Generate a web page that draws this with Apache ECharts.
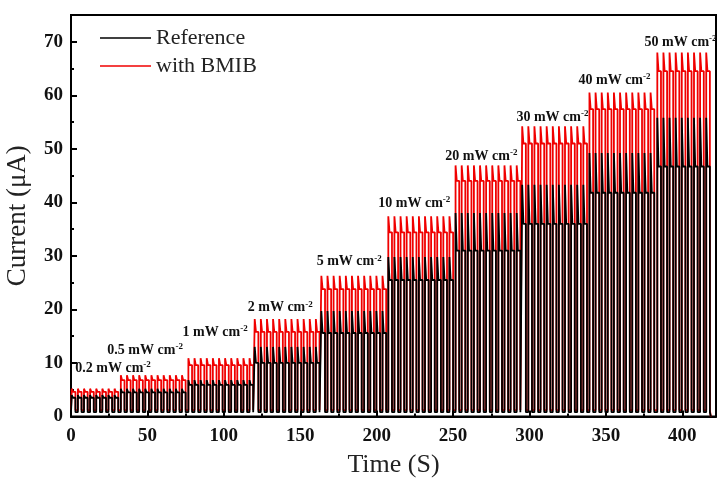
<!DOCTYPE html>
<html>
<head>
<meta charset="utf-8">
<script src="https://cdn.jsdelivr.net/npm/echarts@6/dist/echarts.min.js"></script>
<style>
  html, body { margin: 0; padding: 0; background: #fff; }
  #chart { width: 718px; height: 480px; }
</style>
</head>
<body>
<div id="chart"></div>
<script>
// light intensity steps (mW cm-2) and the pulse train
const intensities = ['0.2', '0.5', '1', '2', '5', '10', '20', '30', '40', '50']
const segStart = [0.5, 32.6, 76.8, 120.2, 163.8, 207.6, 251.6, 295.2, 339.2, 383.6]
const pulseCount = [8, 11, 11, 11, 11, 11, 11, 11, 11, 9]
const redPeak = [5.2, 7.7, 10.9, 18.2, 26.3, 37.4, 46.9, 54.2, 60.5, 68.0]
const redPlateau = [4.6, 6.8, 9.6, 15.8, 23.8, 34.4, 44.0, 51.0, 57.4, 64.5]
const blackPeak = [4.0, 5.2, 6.8, 13.0, 19.7, 29.8, 38.0, 43.3, 49.2, 55.8]
const blackPlateau = [3.5, 4.5, 5.9, 10.0, 15.6, 25.5, 31.0, 36.0, 41.8, 46.7]
const labelPos = [[27.5, 9.0], [48.5, 12.4], [94.3, 15.8], [136.9, 20.3], [182, 28.9],
  [224.6, 39.8], [268.5, 48.6], [315, 55.9], [355.6, 62.8], [398.8, 69.9]]
const redBase = 1.2
const blackBase = 0.8
const period = 4
const onTime = 2.4
const decay = 0.8
const endTime = 418.6

function wave(peak, plateau, base) {
  const pts = [[0, base]]
  segStart.forEach((s, i) => {
    for (let k = 0; k < pulseCount[i]; k++) {
      const t0 = s + k * period
      pts.push([t0, base], [t0, peak[i]], [t0 + decay, plateau[i]],
        [t0 + onTime, plateau[i]], [t0 + onTime, base])
    }
  })
  pts.push([endTime, base], [endTime, 0])
  return pts
}

const serif = '"Liberation Serif", "Times New Roman", serif'

const chart = echarts.init(document.getElementById('chart'), null, { renderer: 'canvas' })

chart.setOption({
  animation: false,
  grid: {
    left: 71, right: 2, top: 15, bottom: 63.5,
    outerBoundsMode: 'none',
    show: true, borderColor: '#000', borderWidth: 2,
  },
  legend: {
    data: ['Reference', 'with BMIB'],
    orient: 'vertical',
    left: 95,
    top: 22,
    icon: 'rect',
    itemWidth: 51,
    itemHeight: 1.5,
    itemGap: 6,
    textStyle: { fontFamily: serif, fontSize: 22, color: '#222' },
  },
  xAxis: {
    type: 'value',
    min: 0,
    max: 422,
    interval: 50,
    name: 'Time (S)',
    nameLocation: 'middle',
    nameGap: 36,
    nameTextStyle: { fontFamily: serif, fontSize: 26, color: '#222' },
    axisLine: { lineStyle: { color: '#000', width: 2 } },
    axisTick: { inside: true, length: 6, lineStyle: { color: '#000', width: 2 } },
    minorTick: { show: true, splitNumber: 2, length: 3, lineStyle: { color: '#000', width: 2 } },
    axisLabel: { fontFamily: serif, fontWeight: 'bold', fontSize: 19, color: '#111', margin: 10, showMaxLabel: false },
    splitLine: { show: false },
  },
  yAxis: {
    type: 'value',
    min: 0,
    max: 75,
    interval: 10,
    name: 'Current (\u03bcA)',
    nameLocation: 'middle',
    nameGap: 40,
    nameTextStyle: { fontFamily: serif, fontSize: 27, color: '#222' },
    axisLine: { lineStyle: { color: '#000', width: 2 } },
    axisTick: { inside: true, length: 6, lineStyle: { color: '#000', width: 2 } },
    minorTick: { show: true, splitNumber: 2, length: 3, lineStyle: { color: '#000', width: 2 } },
    axisLabel: { fontFamily: serif, fontWeight: 'bold', fontSize: 19, color: '#111', margin: 8, showMaxLabel: false },
    splitLine: { show: false },
  },
  series: [
    {
      name: 'with BMIB',
      type: 'line',
      data: wave(redPeak, redPlateau, redBase),
      symbol: 'none',
      color: '#f00000',
      lineStyle: { width: 1.8, color: '#f00000' },
      markPoint: {
        symbol: 'circle',
        symbolSize: 1,
        itemStyle: { color: 'rgba(0,0,0,0)' },
        label: {
          show: true,
          position: 'inside',
          formatter: p => `{a|${p.name} mW cm}{s|-2}`,
          rich: {
            a: { fontFamily: serif, fontWeight: 'bold', fontSize: 14, color: '#111' },
            s: { fontFamily: serif, fontWeight: 'bold', fontSize: 9, color: '#111', padding: [0, 0, 7, 0] },
          },
        },
        data: intensities.map((name, i) => ({ name, coord: labelPos[i] })),
      },
    },
    {
      name: 'Reference',
      type: 'line',
      data: wave(blackPeak, blackPlateau, blackBase),
      symbol: 'none',
      color: '#000',
      lineStyle: { width: 1.8, color: '#000' },
    },
  ],
})
</script>
</body>
</html>
